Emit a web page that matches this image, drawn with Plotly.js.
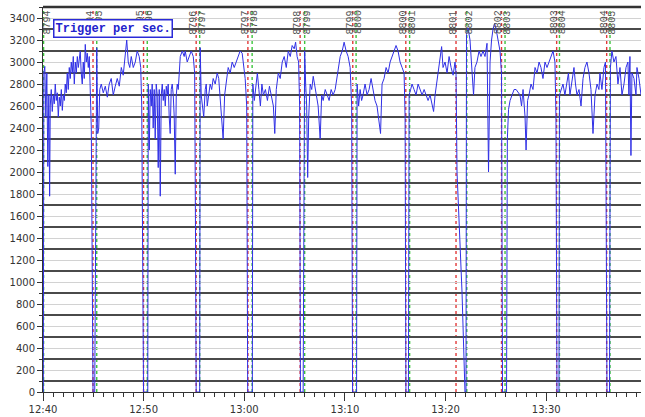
<!DOCTYPE html>
<html>
<head>
<meta charset="utf-8">
<script src="https://cdn.plot.ly/plotly-3.0.1.min.js"></script>
<style>
html,body{margin:0;padding:0;background:#fff;}
#chart{width:645px;height:417px;}
</style>
</head>
<body>
<div id="chart"></div>
<script>
// time in minutes after 12:40
const tMin = [
 0.03,0.08,0.18,0.28,0.38,0.48,0.58,0.66,0.72,0.82,0.92,1.02,1.12,1.22,1.32,1.42,1.52,1.62,1.72,1.82,1.92,2.02,2.12,2.21,2.31,2.41,2.51,2.61,2.71,2.81,2.91,3.01,3.11,3.21,3.31,3.41,3.51,3.70,3.80,3.90,4.00,4.10,4.20,4.30,4.40,4.50,4.60,4.70,4.80,4.90,4.97,
 5.14,5.34,5.44,5.54,5.64,5.79,5.99,6.19,6.39,6.58,6.78,6.98,7.18,7.38,7.58,7.78,7.97,8.17,8.32,8.47,8.62,8.77,8.97,9.17,9.36,9.56,9.71,9.81,9.91,9.99,
 10.41,10.46,10.56,10.66,10.76,10.85,10.95,11.05,11.15,11.25,11.35,11.45,11.55,11.65,11.75,11.85,11.95,12.05,12.15,12.25,12.35,12.44,12.54,12.64,12.74,12.84,12.94,13.04,13.14,13.24,13.34,13.44,13.64,13.84,14.03,14.13,14.33,14.53,14.73,14.93,15.07,15.15,15.22,
 15.57,15.62,15.72,15.82,15.97,16.12,16.22,16.32,16.47,16.61,16.76,16.91,17.11,17.31,17.46,17.61,17.76,17.90,18.05,18.20,18.40,18.60,18.80,19.00,19.19,19.39,19.59,19.79,19.94,20.09,20.24,20.34,
 20.80,20.85,21.00,21.15,21.30,21.45,21.60,21.75,21.90,22.10,22.30,22.50,22.69,22.89,23.03,23.18,23.38,23.57,23.77,23.97,24.17,24.37,24.57,24.76,24.96,25.10,25.25,25.40,25.50,25.58,
 25.85,26.00,26.10,26.20,26.30,26.40,26.55,26.70,26.85,27.04,27.19,27.34,27.54,27.69,27.84,28.04,28.24,28.43,28.63,28.83,29.03,29.18,29.33,29.53,29.73,29.92,30.12,30.32,30.52,30.67,30.76,
 31.16,31.21,31.36,31.51,31.66,31.80,32.00,32.20,32.40,32.60,32.80,32.99,33.19,33.39,33.54,33.69,33.89,34.09,34.29,34.49,34.68,34.88,35.08,35.28,35.48,35.68,35.88,35.98,36.06,
 36.31,36.38,36.53,36.67,36.87,37.07,37.27,37.47,37.67,37.87,38.07,38.26,38.46,38.66,38.81,38.96,39.16,39.31,39.46,39.61,39.75,39.95,40.15,40.35,40.55,40.75,40.94,41.04,41.14,41.64,41.93,
 42.03,42.08,42.23,42.43,42.62,42.78,42.92,43.12,43.33,43.52,43.72,43.92,44.12,44.27,44.42,44.57,44.72,44.87,45.02,45.21,45.41,45.56,45.66,
 46.06,46.14,46.26,46.41,46.61,46.81,47.01,47.20,47.40,47.55,47.70,47.90,48.00,48.15,48.29,48.49,48.69,48.89,49.09,49.29,49.48,49.68,49.88,50.08,50.28,50.48,50.68,50.87,50.97,51.07,
 51.27,51.32,51.47,51.67,51.86,52.06,52.21,52.36,52.56,52.76,52.91,53.06,53.26,53.46,53.66,53.85,54.05,54.25,54.45,54.55,54.65,54.85,55.05,55.24,55.34,55.54,55.74,55.89,55.99,56.04,
 56.29,56.38,56.53,56.73,56.93,57.13,57.33,57.53,57.73,57.93,58.12,58.22,58.32,58.42,58.52,58.72,58.92,59.02,59.22,59.42
];
// triggers per second
const rate = [
 0,2900,2960,2500,2900,2050,2700,1780,2600,2750,2550,2700,2620,2800,2650,2720,2500,2680,2600,2750,2560,2700,2650,2800,2720,2900,2750,2950,2850,3000,2900,3050,2800,3000,2900,3050,2950,3100,2900,2800,3000,2850,3160,3000,3080,2950,3050,2800,2400,1000,0,
 0,3130,2350,2400,2750,2800,2720,2780,2680,2800,2850,2700,2780,2850,2780,2950,2880,3050,3200,3000,2950,3050,2950,3000,3100,3050,2950,2600,1000,0,
 0,2800,2200,2750,2600,2800,2400,2750,2300,2800,2700,2040,2750,1780,2700,2800,2650,2750,2600,2780,2700,2800,2500,2350,2750,2800,2700,2500,1980,2700,2800,2750,3050,3100,3050,3100,3000,3050,3100,3050,2900,1500,0,
 0,3130,2700,2600,2500,2750,2800,2600,2700,2800,2750,2850,2800,2900,2850,2650,2420,2300,2700,2800,2950,2900,3000,2950,3000,3050,3100,3080,2950,2850,2600,0,
 0,2800,2650,2780,2900,2750,2600,2800,2700,2750,2650,2780,2700,2600,2350,2750,2900,2850,3000,3050,2950,3100,3050,3150,3120,3180,3050,3000,2600,0,
 0,3100,2800,2600,1950,2500,2800,2750,2870,2750,2700,2600,2300,2700,2650,2750,2700,2650,2750,2700,2750,2850,2950,3050,3100,3180,3100,3050,2950,2600,0,
 0,2800,2600,2750,2650,2700,2800,2700,2750,2850,2750,2650,2600,2450,2350,2800,2850,2950,2900,3000,3050,3100,3150,3100,3000,2950,2900,2500,0,
 0,2700,2750,2800,2750,2700,2800,2750,2700,2750,2700,2650,2700,2600,2550,2700,2850,2950,3050,3140,2950,3000,2900,3050,2950,2880,3000,2900,2000,900,0,
 0,3250,3310,3200,2950,2700,2950,3000,3100,3050,3100,3050,3170,2000,3000,3200,3300,3350,3300,3200,3100,2900,0,
 0,2300,2570,2650,2700,2750,2750,2720,2700,2600,2750,2500,2200,2650,2700,2800,2750,2950,2900,3000,2950,2850,3000,2950,3000,3050,3100,3000,2500,0,
 0,2700,2750,2800,2700,2800,2900,2700,2850,2950,2800,2700,2750,2600,2850,2950,3000,2900,2750,2600,2350,2700,2800,2750,2900,2750,2950,3000,1500,0,
 0,2950,3100,3000,3050,2800,2950,2700,2800,2950,3000,2700,3050,2150,2900,2850,2700,2950,2850,2700
];
// run boundaries (minutes after 12:40)
const runEnd = [4.97, 9.99, 15.22, 20.36, 25.55, 30.78, 36.05, 41.04, 45.56, 51.04, 56.01];
const runStart = [0.06, 5.34, 10.36, 15.57, 20.78, 26.00, 31.11, 36.43, 42.11, 45.91, 51.32, 56.34];
const runEndLabel = ['8794','8795','8796','8797','8798','8799','8800','8801','8802','8803','8804'];
const runStartLabel = ['8794','8795','8796','8797','8798','8799','8800','8801','8802','8803','8804','8805'];
// x-axis ticks
const timeTicks = [0, 10, 20, 30, 40, 50];
const timeLabels = ['12:40','12:50','13:00','13:10','13:20','13:30'];
const chartTitle = 'Trigger per sec.';

const shapes = [];
runEnd.forEach(x => shapes.push({type:'line', xref:'x', yref:'paper', x0:x, x1:x, y0:0, y1:1,
  layer:'between', line:{color:'#e23a3a', width:1.4, dash:'3px,3px'}}));
runStart.forEach(x => shapes.push({type:'line', xref:'x', yref:'paper', x0:x, x1:x, y0:0, y1:1,
  layer:'between', line:{color:'#3cc43c', width:1.4, dash:'3px,3px'}}));
shapes.push({type:'line', xref:'paper', yref:'paper', x0:0, x1:1, y0:1, y1:1,
  layer:'above', line:{color:'#333', width:2.5}});

const annotations = [];
runEnd.forEach((x,i) => annotations.push({x:x-0.27, y:0.96, xref:'x', yref:'paper',
  text:runEndLabel[i], textangle:-90, showarrow:false, xanchor:'center', yanchor:'middle',
  font:{family:'Liberation Mono, monospace', size:10, color:'#555'}}));
runStart.forEach((x,i) => annotations.push({x:x+(i===0?0.34:0.24), y:0.96, xref:'x', yref:'paper',
  text:runStartLabel[i], textangle:-90, showarrow:false, xanchor:'center', yanchor:'middle',
  font:{family:'Liberation Mono, monospace', size:10, color:'#555'}}));
annotations.push({x:0.016, y:0.970, xref:'paper', yref:'paper', xanchor:'left', yanchor:'top',
  text:chartTitle, showarrow:false, bgcolor:'#fff', bordercolor:'#2a2ad8', borderwidth:1.5, borderpad:1,
  font:{family:'Liberation Mono, monospace', size:12, color:'#2222cc', weight:'bold'}});

const trace = {x:tMin, y:rate, type:'scatter', mode:'lines',
  line:{color:'#3030e6', width:1}, hoverinfo:'skip'};

const layout = {
  width:645, height:417,
  margin:{l:43, r:4, t:7, b:25},
  paper_bgcolor:'#fff', plot_bgcolor:'#fff',
  showlegend:false,
  font:{family:'DejaVu Sans, sans-serif', size:10, color:'#333'},
  xaxis:{range:[0,59.42], tickvals:timeTicks, ticktext:timeLabels, ticks:'outside', ticklen:8,
    tickcolor:'#333', showgrid:false, zeroline:false, showline:true, linecolor:'#333', linewidth:1,
    tickfont:{family:'DejaVu Sans, sans-serif', size:10, color:'#333'},
    minor:{dtick:1, ticks:'outside', ticklen:4, tickcolor:'#333', showgrid:false}},
  yaxis:{range:[0,3500], dtick:200, tick0:0, ticks:'outside', ticklen:5, tickcolor:'#333',
    showgrid:true, gridcolor:'#d2d2d2', gridwidth:1, zeroline:false,
    showline:true, linecolor:'#333', linewidth:1,
    tickfont:{family:'DejaVu Sans, sans-serif', size:10, color:'#333'},
    minor:{dtick:100, tick0:0, ticks:'outside', ticklen:3, tickcolor:'#333',
      showgrid:true, gridcolor:'#4a4a4a', gridwidth:1.5}},
  shapes:shapes,
  annotations:annotations
};

Plotly.newPlot('chart', [trace], layout, {displayModeBar:false, staticPlot:true});
</script>
</body>
</html>
